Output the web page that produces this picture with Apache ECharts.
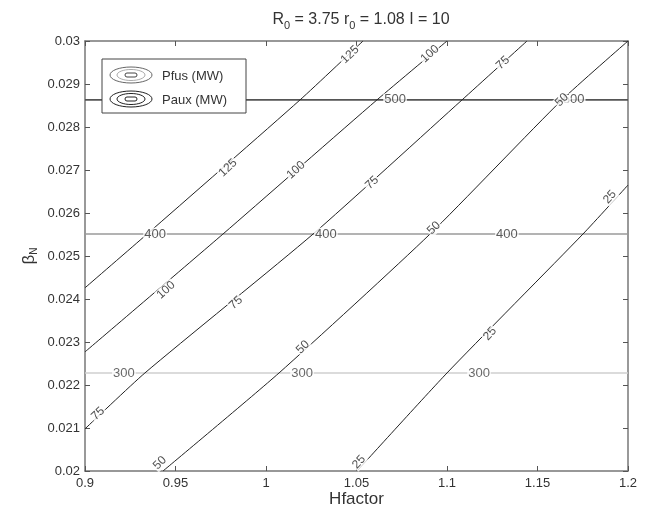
<!DOCTYPE html>
<html>
<head>
<meta charset="utf-8">
<script src="https://cdn.jsdelivr.net/npm/echarts@6/dist/echarts.min.js"></script>
<style>
  html, body { margin: 0; padding: 0; background: #fff; }
  #chart { width: 650px; height: 516px; }
</style>
</head>
<body>
<div id="chart"></div>
<script>
// Axis ticks
const xTicks = [0.9, 0.95, 1, 1.05, 1.1, 1.15, 1.2];
const yTicks = [0.02, 0.021, 0.022, 0.023, 0.024, 0.025, 0.026, 0.027, 0.028, 0.029, 0.03];

// Paux contours (MW): [Hfactor, betaN] points along each level
const paux125 = [[0.9, 0.02426], [0.9343, 0.02551], [1.0188, 0.02863], [1.0536, 0.03]];
const paux100 = [[0.9, 0.02277], [0.9762, 0.02551], [1.0613, 0.02863], [1.1, 0.03]];
const paux75  = [[0.9, 0.02098], [0.9331, 0.02228], [1.026, 0.02551], [1.1083, 0.02863], [1.1442, 0.03]];
const paux50  = [[0.9431, 0.02], [1.0072, 0.02228], [1.0906, 0.02551], [1.1635, 0.02863], [1.2, 0.03]];
const paux25  = [[1.0503, 0.02], [1.1, 0.02228], [1.1751, 0.02551], [1.2, 0.02665]];

// Pfus contours (MW): constant betaN levels
const pfusLevels = [300, 400, 500];
const pfusBeta   = [0.02228, 0.02551, 0.02863];

// Inline contour labels: [Hfactor, betaN, text]
const pauxLabels125 = [[0.979, 0.02705, '125'], [1.0464, 0.02968, '125']];
const pauxLabels100 = [[0.9448, 0.02421, '100'], [1.0166, 0.0270, '100'], [1.0906, 0.0297, '100']];
const pauxLabels75  = [[0.9072, 0.02133, '75'], [0.9834, 0.02391, '75'], [1.0586, 0.0267, '75'], [1.1309, 0.02949, '75']];
const pauxLabels50  = [[0.9414, 0.02019, '50'], [1.0204, 0.02288, '50'], [1.0928, 0.02565, '50'], [1.1635, 0.02863, '50']];
const pauxLabels25  = [[1.0514, 0.02021, '25'], [1.1238, 0.02319, '25'], [1.190, 0.02637, '25']];
const pfusLabels300 = [[0.9215, 0.02228, '300'], [1.0199, 0.02228, '300'], [1.1177, 0.02228, '300']];
const pfusLabels400 = [[0.9387, 0.02551, '400'], [1.0331, 0.02551, '400'], [1.1331, 0.02551, '400']];
const pfusLabels500 = [[1.0713, 0.02863, '500'], [1.1700, 0.02863, '500']];

const FONT = "'Liberation Sans', Arial, sans-serif";
const pfusColors = ['#cfcfcf', '#9a9a9a', '#555555'];

function fmt(v) { return String(+v.toFixed(3)); }

const series = [];

// Pfus horizontal levels
pfusLevels.forEach((lvl, i) => {
  series.push({
    type: 'line', name: 'Pfus ' + lvl, symbol: 'none', silent: true, z: 2,
    lineStyle: { color: pfusColors[i], width: 1.6 },
    data: [[xTicks[0], pfusBeta[i]], [xTicks[xTicks.length - 1], pfusBeta[i]]]
  });
});

// Paux contours
[paux125, paux100, paux75, paux50, paux25].forEach((pts, i) => {
  series.push({
    type: 'line', name: 'Paux ' + i, symbol: 'none', silent: true, z: 3,
    smooth: 0.2,
    lineStyle: { color: '#222', width: 1 },
    data: pts
  });
});

function labelSeries(items, rotate, color, size, z) {
  return {
    type: 'scatter', symbolSize: 0, silent: true, z: z || 5,
    data: items.map(d => ({ value: [d[0], d[1]], name: d[2] })),
    label: {
      show: true, position: 'inside', formatter: p => p.name, rotate: rotate,
      color: color, fontFamily: FONT, fontSize: size,
      backgroundColor: '#fff', padding: [0, 1]
    }
  };
}

series.push(labelSeries(pfusLabels300, 0, '#444', 13, 5));
series.push(labelSeries(pfusLabels400, 0, '#333', 13, 5));
series.push(labelSeries(pfusLabels500, 0, '#333', 13, 5));
series.push(labelSeries(pauxLabels125, 44, '#222', 12, 6));
series.push(labelSeries(pauxLabels100, 42, '#222', 12, 6));
series.push(labelSeries(pauxLabels75, 43, '#222', 12, 6));
series.push(labelSeries(pauxLabels50, 45, '#222', 12, 6));
series.push(labelSeries(pauxLabels25, 48, '#222', 12, 6));

const axisLine = { show: true, lineStyle: { color: '#777', width: 1.5 } };
const axisTick = { show: true, inside: true, length: 5, lineStyle: { color: '#555', width: 1 } };
const keyFont = "13px 'Liberation Sans', Arial, sans-serif";

const option = {
  animation: false,
  backgroundColor: '#fff',
  title: {
    text: 'R{s|0} = 3.75 r{s|0} = 1.08 I = 10',
    left: 356, top: 3, textAlign: 'center',
    textStyle: {
      fontFamily: FONT, fontSize: 16, fontWeight: 'normal', color: '#333',
      rich: { s: { fontFamily: FONT, fontSize: 11, color: '#333', padding: [12, 0, 0, 0] } }
    }
  },
  grid: { left: 85, right: 22, top: 41, bottom: 45, outerBoundsMode: 'none' },
  xAxis: [{
    type: 'value', min: 0.9, max: 1.2, interval: 0.05,
    name: 'Hfactor', nameLocation: 'middle', nameGap: 20, nameMoveOverlap: false,
    nameTextStyle: { fontFamily: FONT, fontSize: 17, color: '#333' },
    axisLine: axisLine, axisTick: axisTick, splitLine: { show: false },
    axisLabel: { formatter: fmt, fontFamily: FONT, fontSize: 13, color: '#333', margin: 6 }
  }, {
    type: 'value', position: 'top', min: 0.9, max: 1.2, interval: 0.05,
    axisLine: axisLine, axisTick: axisTick, splitLine: { show: false }, axisLabel: { show: false }
  }],
  yAxis: [{
    type: 'value', min: 0.02, max: 0.03, interval: 0.001,
    name: '{b|β}{s|N}', nameLocation: 'middle', nameGap: 46, nameRotate: 90, nameMoveOverlap: false,
    nameTextStyle: {
      fontFamily: FONT, fontSize: 16, color: '#333',
      rich: {
        b: { fontFamily: FONT, fontSize: 17, color: '#333' },
        s: { fontFamily: FONT, fontSize: 10, color: '#333', padding: [10, 0, 0, 0] }
      }
    },
    axisLine: axisLine, axisTick: axisTick, splitLine: { show: false },
    axisLabel: { formatter: fmt, fontFamily: FONT, fontSize: 13, color: '#333', margin: 5 }
  }, {
    type: 'value', position: 'right', min: 0.02, max: 0.03, interval: 0.001,
    axisLine: axisLine, axisTick: axisTick, splitLine: { show: false }, axisLabel: { show: false }
  }],
  series: series,
  graphic: [
    { type: 'rect', z: 100, zlevel: 1, shape: { x: 102, y: 59, width: 144, height: 54 },
      style: { fill: '#fff', stroke: '#444', lineWidth: 1 } },
    // Pfus key: nested grey ellipses
    { type: 'ellipse', z: 101, zlevel: 1, shape: { cx: 131, cy: 75, rx: 21, ry: 8 }, style: { fill: 'none', stroke: '#666', lineWidth: 1 } },
    { type: 'ellipse', z: 101, zlevel: 1, shape: { cx: 131, cy: 75, rx: 14, ry: 5.5 }, style: { fill: 'none', stroke: '#aaa', lineWidth: 1 } },
    { type: 'rect', z: 101, zlevel: 1, shape: { x: 125, y: 73, width: 12, height: 4, r: 2 }, style: { fill: 'none', stroke: '#444', lineWidth: 1 } },
    { type: 'text', z: 101, zlevel: 1, style: { x: 162, y: 76, text: 'Pfus (MW)', fill: '#333', font: keyFont, verticalAlign: 'middle' } },
    // Paux key: nested dark ellipses
    { type: 'ellipse', z: 101, zlevel: 1, shape: { cx: 131, cy: 99, rx: 21, ry: 8 }, style: { fill: 'none', stroke: '#222', lineWidth: 1 } },
    { type: 'ellipse', z: 101, zlevel: 1, shape: { cx: 131, cy: 99, rx: 14, ry: 5.5 }, style: { fill: 'none', stroke: '#222', lineWidth: 1 } },
    { type: 'rect', z: 101, zlevel: 1, shape: { x: 125, y: 97, width: 12, height: 4, r: 2 }, style: { fill: 'none', stroke: '#222', lineWidth: 1 } },
    { type: 'text', z: 101, zlevel: 1, style: { x: 162, y: 100, text: 'Paux (MW)', fill: '#333', font: keyFont, verticalAlign: 'middle' } }
  ]
};

const chart = echarts.init(document.getElementById('chart'), null, { renderer: 'canvas' });
chart.setOption(option);
</script>
</body>
</html>
